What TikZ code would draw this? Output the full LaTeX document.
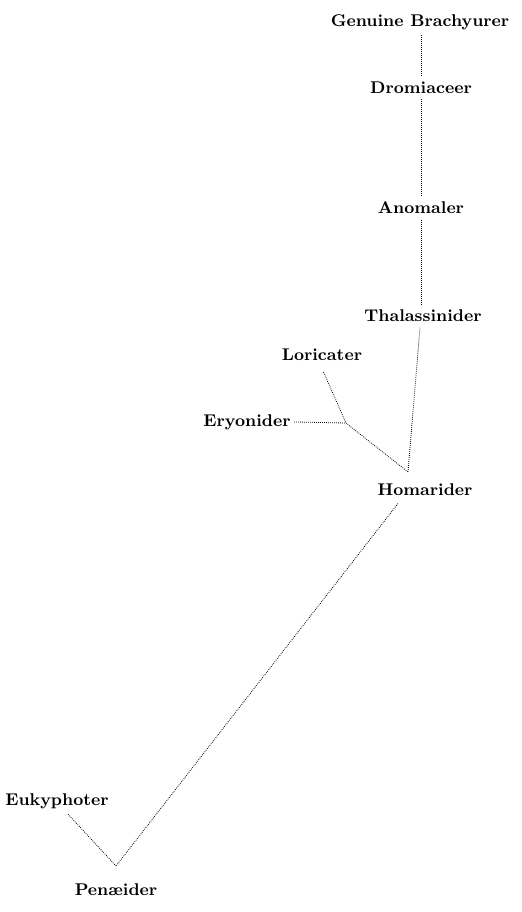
\documentclass[tikz,border=0pt]{standalone}
\usepackage{tikz}
\usetikzlibrary{positioning}

\begin{document}
\begin{tikzpicture}[x=0.5pt,y=-0.5pt,
        taxon/.style={font=\fontsize{8.5}{10}\selectfont\bfseries, inner sep=1pt, outer sep=1.8pt},
        link/.style={line width=0.4pt, dash pattern=on 0.4pt off 0.6pt}]
                \useasboundingbox (0,0) rectangle (522,912);
                % groups
                \node[taxon] (brachy) at (420,22) {Genuine\ Brachyurer};
                \node[taxon] (dromia) at (421,88) {Dromiaceer};
                \node[taxon] (anomal) at (421,208) {Anomaler};
                \node[taxon] (thalas) at (423,316) {Thalassinider};
                \node[taxon] (lorica) at (322,355) {Loricater};
                \node[taxon] (eryoni) at (247,422) {Eryonider};
                \node[taxon] (homari) at (425,490) {Homarider};
                \node[taxon] (eukyph) at (57,801) {Eukyphoter};
                \node[taxon] (penaei) at (116,890) {Pen\ae ider};
                % branch points
                \coordinate (homfork) at (408,472);
                \coordinate (eryfork) at (346,423);
                \coordinate (penfork) at (116,866);
                % lines of descent
                \draw[link] (brachy.south -| 421,0) -- (dromia.north -| 421,0);
                \draw[link] (dromia.south -| 421,0) -- (anomal.north -| 421,0);
                \draw[link] (anomal.south -| 421,0) -- (thalas.north -| 421,0);
                \draw[link] (thalas.south -| 420,0) -- (homfork);
                \draw[link, shorten <=3pt] (lorica.-95) -- (eryfork);
                \draw[link, shorten <=-1pt] (eryoni.east) -- (eryfork);
                \draw[link] (eryfork) -- (homfork);
                \draw[link] (homari.south west) ++(26,2) -- (penfork);
                \draw[link] (eukyph.-50) -- (penfork);
            \end{tikzpicture}
\end{document}
